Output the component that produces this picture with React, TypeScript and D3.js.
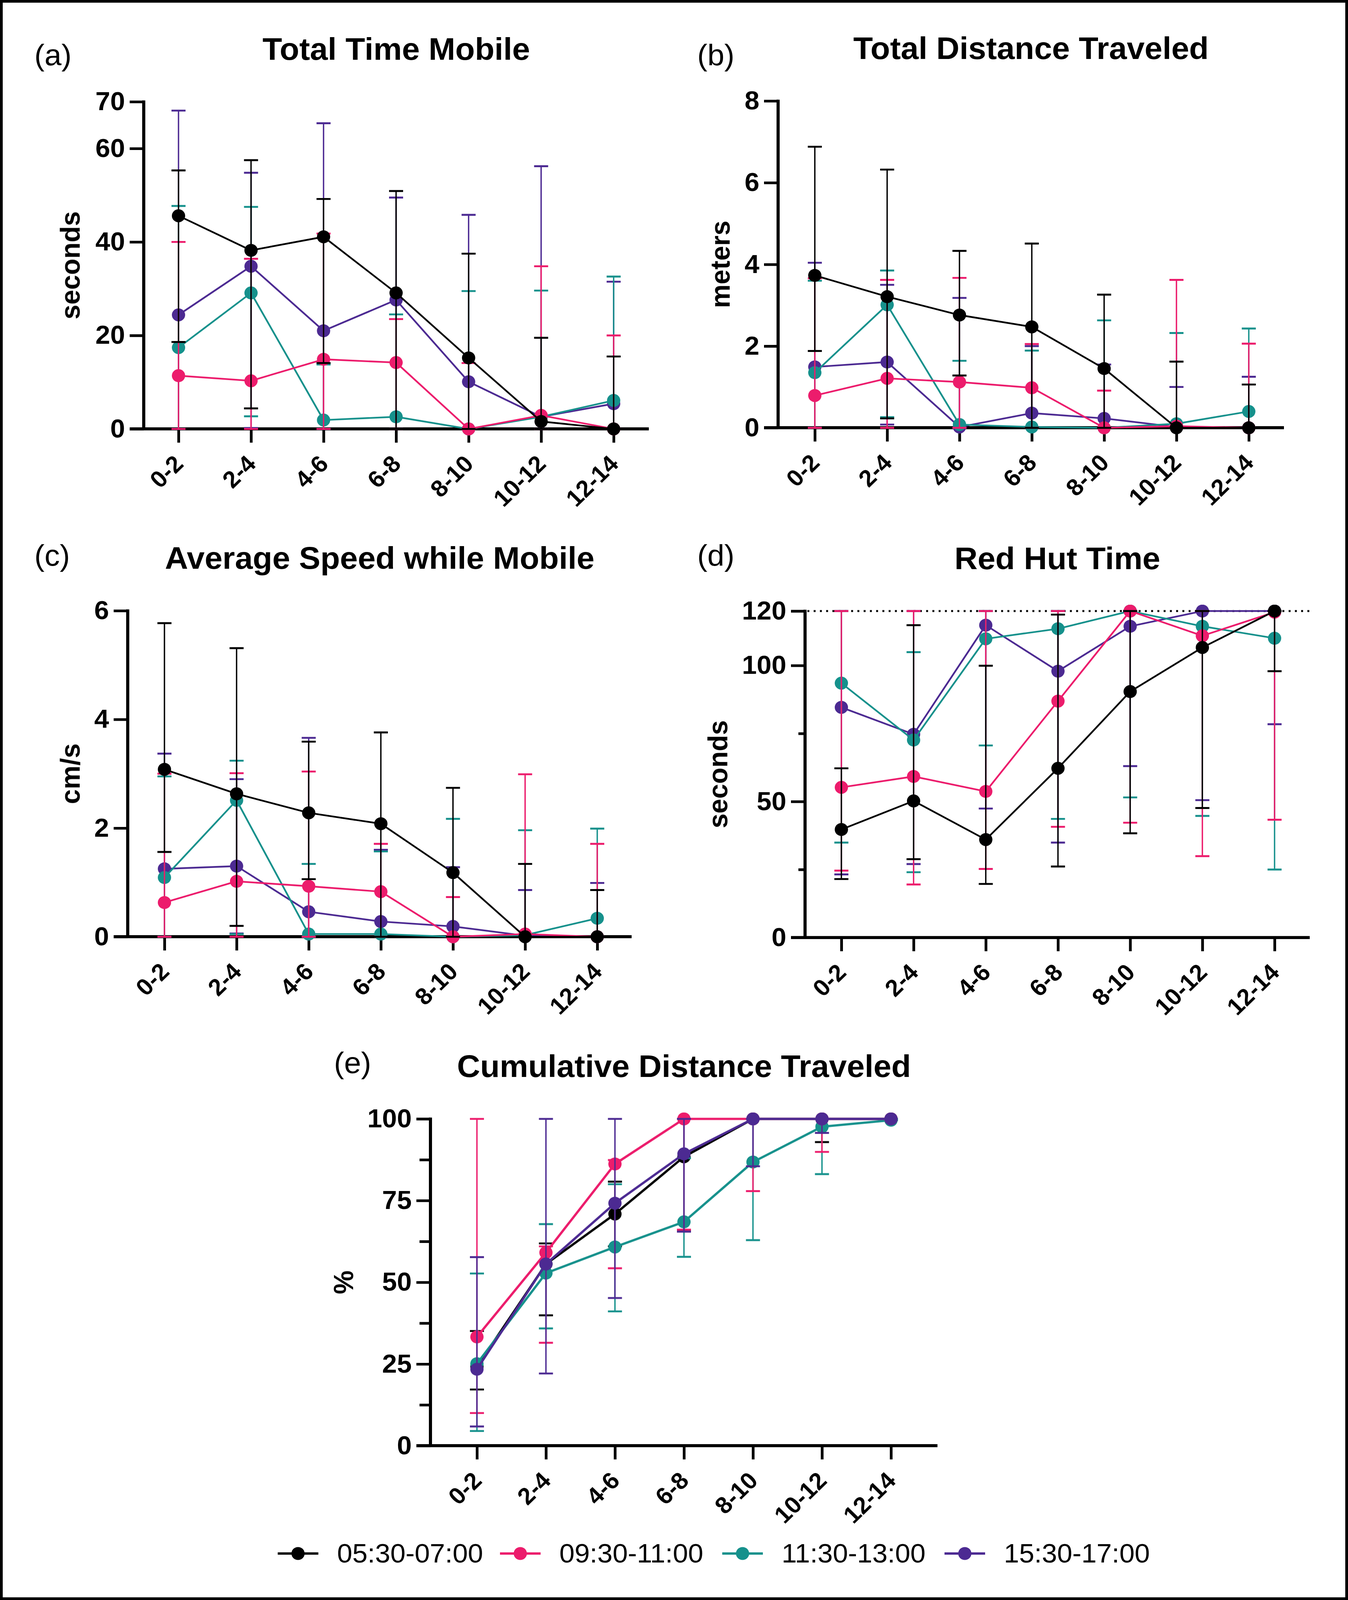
import { useEffect, useRef } from 'react';
import * as d3 from "d3";

const categories = ["0-2", "2-4", "4-6", "6-8", "8-10", "10-12", "12-14"];
const seriesNames = ["05:30-07:00", "09:30-11:00", "11:30-13:00", "15:30-17:00"];
const seriesColors = ["#000000", "#EC1C6C", "#16918C", "#4C2A92"];

// (a) Total Time Mobile, seconds: rows are series (black, pink, teal, purple)
const mobileMean = [
  [45.6, 38.2, 41.1, 29.1, 15.2, 1.6, 0],
  [11.4, 10.3, 14.9, 14.2, 0, 2.9, 0],
  [17.4, 29.1, 1.9, 2.6, 0, 2.6, 6.1],
  [24.4, 34.8, 21.0, 27.6, 10.1, 2.6, 5.4],
];
const mobileLow = [
  [18.6, 4.4, 14.1, 0, 0, 0, 0],
  [0, 0, 0, 0, 0, 0, 0],
  [0, 2.7, 0, 0, 0, 0, 0],
  [0, 0.2, 0, 0, 0, 0, 0],
];
const mobileHigh = [
  [55.3, 57.5, 49.2, 50.9, 37.5, 19.5, 15.5],
  [40, 36.4, 41.8, 23.5, 14.1, 34.8, 20],
  [47.7, 47.5, 13.8, 24.5, 29.5, 29.6, 32.6],
  [68.1, 54.8, 65.4, 49.5, 45.8, 56.2, 31.5],
];

// (b) Total Distance Traveled, meters
const distMean = [
  [3.73, 3.21, 2.76, 2.47, 1.45, 0, 0],
  [0.79, 1.21, 1.12, 0.98, 0, 0.04, 0],
  [1.35, 3.01, 0.08, 0.02, 0, 0.1, 0.4],
  [1.49, 1.61, 0.02, 0.36, 0.23, 0.02, 0],
];
const distLow = [
  [1.88, 0.23, 1.28, 0, 0, 0, 0],
  [0, 0, 0, 0, 0, 0, 0],
  [0, 0.26, 0, 0, 0, 0, 0],
  [0, 0.08, 0, 0, 0, 0, 0],
];
const distHigh = [
  [6.88, 6.32, 4.33, 4.51, 3.26, 1.62, 1.06],
  [3.66, 3.62, 3.67, 2.05, 0.91, 3.62, 2.06],
  [3.6, 3.85, 1.64, 1.89, 2.63, 2.32, 2.43],
  [4.04, 3.5, 3.18, 2.0, 1.55, 1.0, 1.25],
];

// (c) Average Speed while Mobile, cm/s
const speedMean = [
  [3.08, 2.63, 2.28, 2.08, 1.18, 0, 0],
  [0.63, 1.02, 0.93, 0.83, 0, 0.05, 0],
  [1.09, 2.51, 0.05, 0.05, 0, 0.03, 0.34],
  [1.25, 1.3, 0.46, 0.28, 0.19, 0.02, 0],
];
const speedLow = [
  [1.56, 0.2, 1.06, 0, 0, 0, 0],
  [0, 0, 0, 0, 0, 0, 0],
  [0, 0.05, 0, 0, 0, 0, 0],
  [0, 0.06, 0, 0, 0, 0, 0],
];
const speedHigh = [
  [5.77, 5.31, 3.59, 3.76, 2.74, 1.34, 0.86],
  [3.0, 3.01, 3.04, 1.71, 0.73, 2.99, 1.71],
  [2.95, 3.24, 1.34, 1.57, 2.17, 1.96, 1.99],
  [3.37, 2.9, 3.66, 1.6, 1.28, 0.86, 0.99],
];

// (d) Red Hut Time, seconds
const hutMean = [
  [39.7, 50.2, 36.0, 62.2, 90.4, 106.6, 120],
  [55.2, 59.2, 53.7, 86.9, 120, 110.9, 119.6],
  [93.5, 72.6, 109.8, 113.5, 120, 114.4, 110.0],
  [84.6, 74.7, 114.8, 97.9, 114.4, 120, 120],
];
const hutLow = [
  [21.5, 28.8, 19.7, 26.1, 38.3, 47.6, 97.9],
  [24.6, 19.5, 25.2, 40.7, 42.2, 29.9, 43.3],
  [34.9, 24.0, 70.6, 43.6, 51.5, 44.7, 25.0],
  [23.2, 27.0, 47.4, 34.9, 63.0, 50.5, 78.4],
];
const hutHigh = [
  [62.2, 114.8, 99.9, 118.7, 120, 120, 120],
  [120, 120, 120, 120, 120, 120, 120],
  [120, 104.9, 120, 120, 120, 120, 120],
  [120, 120, 120, 120, 120, 120, 120],
];

// (e) Cumulative Distance Traveled, %
const cumMean = [
  [24.2, 55.6, 70.9, 88.4, 100, 100, 100],
  [33.3, 59.1, 86.2, 100, 100, 100, 100],
  [25.1, 52.8, 60.8, 68.5, 86.8, 97.6, 99.6],
  [23.4, 55.6, 74.2, 89.3, 100, 100, 100],
];
const cumLow = [
  [17.2, 39.9, 61, 66, 100, 92.9, 100],
  [10.0, 31.5, 54.3, 66.1, 77.9, 89.9, 100],
  [4.5, 35.9, 41.1, 57.8, 62.9, 83.1, 99.6],
  [5.9, 22.1, 45.2, 65.5, 85.5, 95.7, 100],
];
const cumHigh = [
  [35.1, 61.9, 80.8, 100, 100, 100, 100],
  [100, 61, 87.4, 100, 100, 100, 100],
  [52.7, 67.8, 80, 88, 100, 100, 100],
  [57.7, 100, 100, 100, 100, 100, 100],
];

const FONT = "'Liberation Sans', Arial, Helvetica, sans-serif";
const TICK = 36;
const W = 3451;
const H = 4200;

interface Panel {
  tag: string; title: string; yTitle: string;
  mean: number[][]; low: number[][]; high: number[][];
  max: number; ticks: number[]; minor: number[]; minorLen: number;
  axisX: number; axisEnd: number; xFirst: number; xLast: number;
  y0: number; yTop: number; yTitleX: number; tagX: number; tagY: number;
  order: number[]; lineW: number; refLine?: number;
}

const panels: Panel[] = [
  { tag: "(a)", title: "Total Time Mobile", yTitle: "seconds", mean: mobileMean, low: mobileLow, high: mobileHigh,
    max: 70, ticks: [0, 20, 40, 60, 70], minor: [], minorLen: 0,
    axisX: 368, axisEnd: 1661, xFirst: 457, xLast: 1571, y0: 1126, yTop: 267, yTitleX: 204, tagX: 88, tagY: 171,
    order: [3, 2, 1, 0], lineW: 4.5 },
  { tag: "(b)", title: "Total Distance Traveled", yTitle: "meters", mean: distMean, low: distLow, high: distHigh,
    max: 8, ticks: [0, 2, 4, 6, 8], minor: [], minorLen: 0,
    axisX: 1992, axisEnd: 3287, xFirst: 2086, xLast: 3197, y0: 1123, yTop: 265, yTitleX: 1868, tagX: 1785, tagY: 171,
    order: [3, 2, 1, 0], lineW: 4.5 },
  { tag: "(c)", title: "Average Speed while Mobile", yTitle: "cm/s", mean: speedMean, low: speedLow, high: speedHigh,
    max: 6, ticks: [0, 2, 4, 6], minor: [], minorLen: 0,
    axisX: 327, axisEnd: 1617, xFirst: 421, xLast: 1529, y0: 2459, yTop: 1603, yTitleX: 204, tagX: 88, tagY: 1485,
    order: [3, 2, 1, 0], lineW: 4.5 },
  { tag: "(d)", title: "Red Hut Time", yTitle: "seconds", mean: hutMean, low: hutLow, high: hutHigh,
    max: 120, ticks: [0, 50, 100, 120], minor: [25, 75], minorLen: 17,
    axisX: 2061, axisEnd: 3353, xFirst: 2154, xLast: 3263, y0: 2461, yTop: 1604, yTitleX: 1862, tagX: 1785, tagY: 1485,
    order: [3, 2, 1, 0], lineW: 4.5, refLine: 120 },
  { tag: "(e)", title: "Cumulative Distance Traveled", yTitle: "%", mean: cumMean, low: cumLow, high: cumHigh,
    max: 100, ticks: [0, 25, 50, 75, 100], minor: [12.5, 37.5, 62.5, 87.5], minorLen: 28,
    axisX: 1102, axisEnd: 2400, xFirst: 1221, xLast: 2281, y0: 3795, yTop: 2937, yTitleX: 904, tagX: 855, tagY: 2817,
    order: [0, 2, 1, 3], lineW: 6 },
];

export default function App() {
  const chartRef = useRef<SVGSVGElement>(null);

  useEffect(() => {
    if (!chartRef.current) return;
    const svg = d3.select(chartRef.current);
    svg.selectAll("*").remove();

    svg.append("rect").attr("width", W).attr("height", H).attr("fill", "#fff");

    panels.forEach(p => {
      const g = svg.append("g");
      const x = d3.scalePoint<string>().domain(categories).range([p.xFirst, p.xLast]);
      const y = d3.scaleLinear().domain([0, p.max]).range([p.y0, p.yTop]);

      // panel tag and title
      g.append("text").attr("x", p.tagX).attr("y", p.tagY)
        .style("font-family", FONT).style("font-size", "78px").text(p.tag);
      g.append("text").attr("x", (p.axisX + p.axisEnd) / 2).attr("y", p.yTop - 110)
        .attr("text-anchor", "middle")
        .style("font-family", FONT).style("font-size", "82px").style("font-weight", "bold")
        .text(p.title);

      // y axis
      const yAxis = g.append("g").attr("transform", `translate(${p.axisX},0)`)
        .call(d3.axisLeft(y).tickValues(p.ticks).tickSize(TICK).tickPadding(12).tickFormat(d3.format("d")));
      yAxis.select(".domain").remove();
      yAxis.selectAll("line").attr("stroke", "#000").attr("stroke-width", 7);
      yAxis.selectAll("text")
        .style("font-family", FONT).style("font-size", "68px").style("font-weight", "bold")
        .attr("fill", "#000");
      if (p.minor.length) {
        const minorAxis = g.append("g").attr("transform", `translate(${p.axisX},0)`)
          .call(d3.axisLeft(y).tickValues(p.minor).tickSize(p.minorLen).tickFormat(() => ""));
        minorAxis.select(".domain").remove();
        minorAxis.selectAll("line").attr("stroke", "#000").attr("stroke-width", 7);
      }
      g.append("line").attr("x1", p.axisX).attr("x2", p.axisX)
        .attr("y1", y(p.max) - 3.5).attr("y2", p.y0)
        .attr("stroke", "#000").attr("stroke-width", 8);

      // x axis
      const xAxis = g.append("g").attr("transform", `translate(0,${p.y0})`)
        .call(d3.axisBottom(x).tickSize(TICK));
      xAxis.select(".domain").remove();
      xAxis.selectAll("line").attr("stroke", "#000").attr("stroke-width", 7);
      xAxis.selectAll("text")
        .attr("x", 0).attr("y", 0).attr("dy", "0.35em")
        .attr("transform", "translate(0,80) rotate(-45)")
        .attr("text-anchor", "end")
        .style("font-family", FONT).style("font-size", "62px").style("font-weight", "bold")
        .attr("fill", "#000");
      g.append("line").attr("x1", p.axisX - TICK).attr("x2", p.axisEnd)
        .attr("y1", p.y0).attr("y2", p.y0)
        .attr("stroke", "#000").attr("stroke-width", 8);

      // y axis title
      g.append("text")
        .attr("transform", `translate(${p.yTitleX},${(p.y0 + p.yTop) / 2}) rotate(-90)`)
        .attr("text-anchor", "middle")
        .style("font-family", FONT).style("font-size", "70px").style("font-weight", "bold")
        .text(p.yTitle);

      if (p.refLine !== undefined) {
        g.append("line").attr("x1", p.axisX + 6).attr("x2", p.axisEnd)
          .attr("y1", y(p.refLine)).attr("y2", y(p.refLine))
          .attr("stroke", "#000").attr("stroke-width", 5).attr("stroke-dasharray", "5,11");
      }

      const line = d3.line<number>().x((_, i) => x(categories[i]) as number).y(d => y(d));

      p.order.forEach(s => {
        const color = seriesColors[s];
        const sg = g.append("g");
        // error bars
        const bars = sg.append("g").attr("stroke", color).attr("stroke-width", 3.5);
        categories.forEach((c, i) => {
          const cx = x(c) as number;
          const lo = y(p.low[s][i]);
          const hi = y(p.high[s][i]);
          if (Math.abs(lo - hi) < 1) return;
          bars.append("line").attr("x1", cx).attr("x2", cx).attr("y1", lo).attr("y2", hi);
          bars.append("line").attr("x1", cx - 18).attr("x2", cx + 18).attr("y1", hi).attr("y2", hi).attr("stroke-width", 5);
          bars.append("line").attr("x1", cx - 18).attr("x2", cx + 18).attr("y1", lo).attr("y2", lo).attr("stroke-width", 5);
        });
        sg.append("path").datum(p.mean[s]).attr("d", line)
          .attr("fill", "none").attr("stroke", color).attr("stroke-width", p.lineW)
          .attr("stroke-linejoin", "round");
        sg.selectAll("circle").data(p.mean[s]).join("circle")
          .attr("cx", (_, i) => x(categories[i]) as number)
          .attr("cy", d => y(d))
          .attr("r", 17)
          .attr("fill", color);
      });
    });

    // legend
    const legend = svg.append("g").attr("transform", "translate(711,4078)");
    seriesNames.forEach((name, i) => {
      const item = legend.append("g").attr("transform", `translate(${i * 569},0)`);
      item.append("line").attr("x1", 0).attr("x2", 104).attr("y1", 0).attr("y2", 0)
        .attr("stroke", seriesColors[i]).attr("stroke-width", 6);
      item.append("circle").attr("cx", 52).attr("cy", 0).attr("r", 17).attr("fill", seriesColors[i]);
      item.append("text").attr("x", 152).attr("y", 24)
        .style("font-family", FONT).style("font-size", "70px")
        .text(name);
    });

    // outer frame
    svg.append("rect").attr("x", 3.5).attr("y", 3.5).attr("width", W - 7).attr("height", H - 7)
      .attr("fill", "none").attr("stroke", "#000").attr("stroke-width", 7);
  }, []);

  // the visible page is shorter than 4200px, so the drawing is fitted to the viewport
  return (
    <svg ref={chartRef} viewBox={`0 0 ${W} ${H}`} preserveAspectRatio="none"
      style={{ position: "fixed", left: 0, top: 0, width: "100vw", height: "100vh", display: "block" }} />
  );
}
